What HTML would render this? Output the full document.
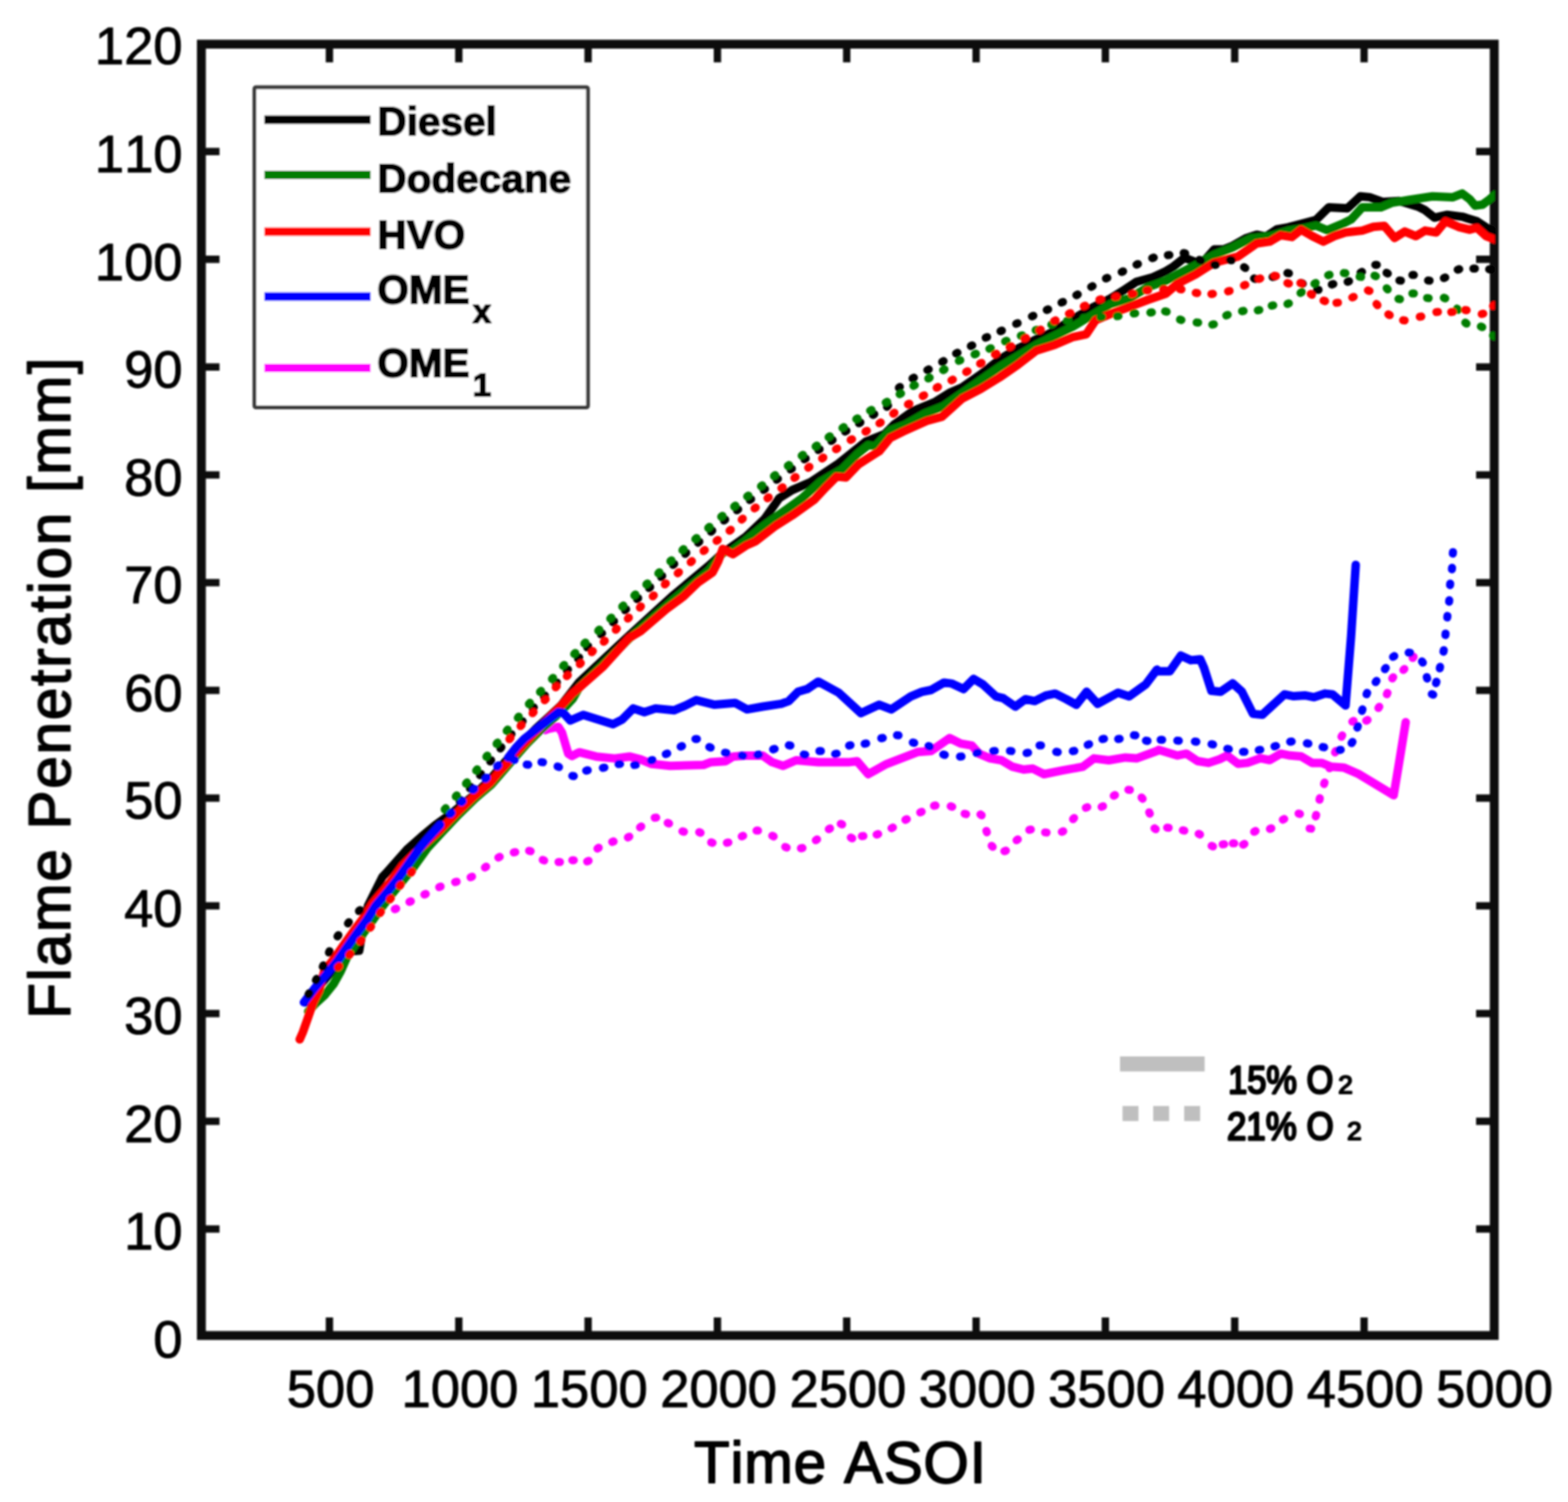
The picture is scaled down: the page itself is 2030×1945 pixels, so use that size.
<!DOCTYPE html>
<html lang="en"><head><meta charset="utf-8"><title>Flame Penetration vs Time ASOI</title>
<style>html,body{margin:0;padding:0;background:#fff}body{width:2030px;height:1945px;overflow:hidden}svg{display:block}text{font-family:"Liberation Sans",Arial,Helvetica,sans-serif;fill:#000;font-kerning:none;stroke-linejoin:round}.tk{font-size:68px;stroke:#000;stroke-width:1.1px;letter-spacing:0px}.lb{font-size:75.5px;stroke:#000;stroke-width:2px}.lg{font-size:52.5px;font-weight:bold;stroke:#000;stroke-width:2px}.an{font-size:50px;stroke:#000;stroke-width:3px}</style></head><body>
<svg xmlns="http://www.w3.org/2000/svg" width="2030" height="1945" viewBox="0 0 2030 1945">
<defs><filter id="bl" x="-5%" y="-5%" width="110%" height="110%"><feGaussianBlur stdDeviation="1.1"/></filter>
<clipPath id="cp"><rect x="260.7" y="57.2" width="1674.8" height="1672.2"/></clipPath></defs>
<rect width="2030" height="1945" fill="#fff"/>
<g filter="url(#bl)">
<g id="axes" stroke="#0a0a0a" fill="none" stroke-linecap="butt">
<rect x="260.7" y="57.2" width="1673.8" height="1672.2" stroke-width="11.5"/>
<path d="M426.5 1729.4 V1705.9 M426.5 57.2 V80.7 M594.0 1729.4 V1705.9 M594.0 57.2 V80.7 M761.4 1729.4 V1705.9 M761.4 57.2 V80.7 M928.8 1729.4 V1705.9 M928.8 57.2 V80.7 M1096.2 1729.4 V1705.9 M1096.2 57.2 V80.7 M1263.7 1729.4 V1705.9 M1263.7 57.2 V80.7 M1431.1 1729.4 V1705.9 M1431.1 57.2 V80.7 M1598.5 1729.4 V1705.9 M1598.5 57.2 V80.7 M1766.0 1729.4 V1705.9 M1766.0 57.2 V80.7 M260.7 1591.6 H284.2 M1934.5 1591.6 H1911.0 M260.7 1452.0 H284.2 M1934.5 1452.0 H1911.0 M260.7 1312.5 H284.2 M1934.5 1312.5 H1911.0 M260.7 1173.0 H284.2 M1934.5 1173.0 H1911.0 M260.7 1033.4 H284.2 M1934.5 1033.4 H1911.0 M260.7 893.9 H284.2 M1934.5 893.9 H1911.0 M260.7 754.4 H284.2 M1934.5 754.4 H1911.0 M260.7 614.9 H284.2 M1934.5 614.9 H1911.0 M260.7 475.3 H284.2 M1934.5 475.3 H1911.0 M260.7 335.8 H284.2 M1934.5 335.8 H1911.0 M260.7 196.3 H284.2 M1934.5 196.3 H1911.0" stroke-width="9.5"/>
</g>
<g id="yticks" class="tk" text-anchor="end">
<text x="236.3" y="1757.8">0</text>
<text x="236.3" y="1618.3">10</text>
<text x="236.3" y="1478.7">20</text>
<text x="236.3" y="1339.2">30</text>
<text x="236.3" y="1199.7">40</text>
<text x="236.3" y="1060.1">50</text>
<text x="236.3" y="920.6">60</text>
<text x="236.3" y="781.1">70</text>
<text x="236.3" y="641.6">80</text>
<text x="236.3" y="502.0">90</text>
<text x="236.3" y="362.5">100</text>
<text x="236.3" y="223.0">110</text>
<text x="236.3" y="83.4">120</text>
</g>
<g id="xticks" class="tk" text-anchor="middle">
<text x="428.0" y="1821.8">500</text>
<text x="595.5" y="1821.8">1000</text>
<text x="762.9" y="1821.8">1500</text>
<text x="930.3" y="1821.8">2000</text>
<text x="1097.8" y="1821.8">2500</text>
<text x="1265.2" y="1821.8">3000</text>
<text x="1432.6" y="1821.8">3500</text>
<text x="1600.0" y="1821.8">4000</text>
<text x="1767.5" y="1821.8">4500</text>
<text x="1934.9" y="1821.8">5000</text>
</g>
<text class="lb" text-anchor="middle" style="letter-spacing:1.1px" x="1088" y="1920">Time ASOI</text>
<text class="lb" text-anchor="middle" style="letter-spacing:2.4px" transform="translate(90.5 890) rotate(-90)">Flame Penetration [mm]</text>
<g id="curves" clip-path="url(#cp)">
<g id="solid15">
<polyline fill="none" stroke="#ff00ff" stroke-width="11.0" stroke-linejoin="round" stroke-linecap="round" points="706.0,945.5 711.0,943.5 722.8,941.2 727.6,948.7 735.6,975.8 740.4,979.0 750.0,974.2 771.9,979.7 795.8,982.1 815.0,979.7 829.4,983.3 843.8,989.3 867.7,991.7 910.9,990.5 920.4,986.9 939.6,985.7 949.2,979.7 963.6,978.5 987.5,978.5 999.5,986.9 1013.9,991.7 1030.7,984.5 1059.4,986.9 1093.0,986.9 1100.0,986.9 1109.6,985.7 1124.0,1002.5 1147.9,989.3 1188.7,973.7 1205.4,972.5 1229.4,955.8 1243.8,962.9 1258.1,965.3 1267.7,976.1 1282.1,982.1 1296.5,984.5 1310.9,992.9 1325.2,996.5 1337.2,995.3 1351.6,1002.5 1375.6,997.7 1401.9,992.9 1416.3,982.1 1435.5,984.5 1457.0,980.9 1471.4,982.1 1497.8,972.5 1500.0,971.1 1524.0,978.3 1535.9,975.9 1550.3,985.5 1564.7,987.9 1579.1,983.1 1588.7,978.3 1603.0,989.1 1615.0,987.9 1631.8,981.9 1643.8,984.3 1658.1,975.9 1670.1,978.3 1684.5,979.5 1698.9,987.9 1710.9,987.9 1722.8,992.7 1739.6,993.9 1758.8,1002.3 1804.3,1029.8 1811.5,986.7 1819.9,935.2"/>
<polyline fill="none" stroke="#000" stroke-width="11.0" stroke-linejoin="round" stroke-linecap="round" points="396.0,1298.0 410.0,1281.0 426.0,1262.0 439.0,1246.0 451.0,1232.0 465.0,1231.0 470.0,1200.0 476.6,1172.6 487.3,1151.3 495.3,1135.3 500.6,1130.0 528.0,1099.0 545.0,1084.0 563.0,1069.0 585.0,1053.0 612.0,1031.0 633.0,1011.0 654.0,986.7 677.8,960.0 694.0,943.3 710.0,928.8 726.3,913.6 750.0,883.2 809.9,827.2 869.8,772.5 917.7,732.6 936.9,715.2 965.7,695.1 989.6,672.3 1008.8,645.1 1025.6,634.6 1049.5,624.3 1085.5,600.3 1121.4,571.6 1145.4,562.0 1157.3,550.0 1181.2,532.7 1209.9,520.8 1229.1,508.8 1245.8,501.6 1269.8,484.8 1293.8,465.7 1317.7,451.3 1341.7,439.3 1358.5,432.1 1389.6,412.9 1413.6,398.6 1437.5,386.6 1456.7,374.6 1471.1,365.0 1492.7,359.0 1509.4,351.1 1519.2,345.1 1533.5,333.8 1555.1,342.1 1571.9,323.1 1583.9,323.1 1595.8,318.3 1612.6,308.8 1627.0,304.0 1639.0,306.4 1653.4,296.8 1667.7,294.4 1686.9,289.3 1703.7,284.8 1720.4,268.4 1744.4,269.8 1761.2,254.2 1773.2,255.4 1789.9,261.4 1811.5,260.2 1835.5,267.4 1845.0,272.2 1857.0,281.8 1873.8,278.2 1893.0,280.6 1912.1,286.6 1926.5,296.2 1936.1,301.0"/>
<polyline fill="none" stroke="#007d00" stroke-width="11.0" stroke-linejoin="round" stroke-linecap="round" points="399.0,1310.0 408.0,1300.0 420.0,1289.0 432.0,1274.0 441.0,1258.0 449.0,1240.0 458.0,1226.0 470.0,1209.0 483.0,1191.0 495.0,1174.0 508.0,1157.0 521.0,1141.0 534.0,1125.0 553.5,1098.0 571.0,1079.0 593.5,1055.0 615.5,1033.5 636.6,1015.5 658.0,990.7 681.3,963.9 697.4,947.7 713.5,933.2 729.8,917.5 741.4,905.1 750.0,889.8 774.0,866.4 821.9,819.9 869.8,778.1 917.7,738.8 936.9,714.4 946.5,714.2 965.7,699.5 989.6,680.0 1013.6,662.9 1037.5,645.8 1061.5,624.3 1090.3,607.5 1109.4,588.3 1123.8,576.4 1133.4,577.6 1152.6,557.2 1171.7,550.0 1197.9,535.1 1221.9,525.6 1245.8,508.8 1269.8,492.0 1293.8,475.2 1317.7,460.9 1341.7,446.5 1365.7,434.5 1389.6,422.5 1413.6,408.1 1437.5,393.8 1461.5,386.6 1485.5,372.2 1509.4,363.4 1524.0,355.7 1547.9,343.3 1571.9,329.9 1595.8,320.3 1619.8,308.4 1643.8,306.0 1667.7,298.8 1686.9,295.8 1703.7,292.0 1718.1,298.0 1739.6,289.0 1749.2,284.2 1763.6,268.6 1787.5,268.6 1801.9,262.6 1823.5,259.0 1854.6,254.2 1881.0,255.4 1893.0,250.6 1902.6,257.8 1909.7,266.2 1919.3,265.0 1928.9,257.8 1936.1,251.8"/>
<polyline fill="none" stroke="#ff0000" stroke-width="11.0" stroke-linejoin="round" stroke-linecap="round" points="388.0,1346.0 392.1,1336.6 399.6,1315.3 406.0,1297.0 413.0,1283.0 420.0,1257.0 433.0,1241.0 445.5,1223.0 458.0,1205.5 471.0,1188.0 482.5,1169.5 496.5,1153.0 509.5,1137.0 521.0,1121.0 538.0,1104.0 552.0,1091.0 569.5,1075.0 592.0,1052.0 614.0,1031.0 635.1,1013.0 645.7,1000.2 656.4,988.7 667.0,975.9 679.8,961.9 695.9,944.8 712.0,928.5 728.3,912.0 739.9,899.2 750.0,890.3 781.2,862.8 814.7,825.9 829.1,817.6 862.6,788.9 884.2,772.9 903.4,754.6 922.5,741.2 929.7,727.3 935.7,710.8 948.9,717.6 965.7,706.6 977.6,701.3 1004.0,681.0 1025.6,667.4 1054.3,647.0 1068.7,631.5 1083.1,617.1 1095.0,618.3 1111.8,601.0 1123.8,593.3 1138.2,584.4 1152.6,567.0 1169.3,558.8 1200.0,545.0 1219.5,539.6 1245.8,516.0 1269.8,503.6 1293.8,488.9 1317.7,472.4 1341.7,454.0 1365.7,446.4 1389.6,436.3 1406.4,432.8 1418.4,414.6 1437.5,406.6 1461.5,397.6 1485.5,388.5 1509.4,380.2 1524.0,367.7 1547.9,355.4 1571.9,340.2 1603.0,332.1 1627.0,315.3 1643.8,312.9 1658.1,304.6 1672.5,306.9 1684.5,297.4 1698.9,305.8 1713.3,312.9 1727.6,305.8 1742.0,301.0 1763.6,298.6 1778.0,293.8 1792.3,292.6 1805.5,308.1 1818.7,299.8 1833.1,305.8 1845.0,298.6 1859.4,301.0 1871.4,286.6 1888.2,293.8 1902.6,297.4 1912.1,295.0 1924.1,305.8 1936.1,310.5"/>
<polyline fill="none" stroke="#0000ff" stroke-width="11.0" stroke-linejoin="round" stroke-linecap="round" points="393.5,1298.0 408.0,1279.0 424.0,1260.0 437.0,1244.0 449.5,1226.0 462.0,1208.5 475.0,1191.0 486.5,1172.5 500.5,1156.0 513.5,1140.0 525.0,1124.0 542.0,1100.0 552.0,1088.0 569.5,1068.5"/>
<polyline fill="none" stroke="#0000ff" stroke-width="11.0" stroke-linejoin="round" stroke-linecap="round" points="658.0,981.0 663.0,974.5 669.0,967.0 679.0,956.5 690.0,948.0 700.0,940.0 712.0,930.5 722.8,922.3 729.2,923.1 738.3,933.0 755.1,925.8 774.3,931.8 793.5,937.8 805.4,931.8 819.8,917.4 834.2,922.2 848.6,917.4 872.5,919.8 886.9,913.8 901.3,906.6 925.2,912.6 951.6,910.2 967.2,918.6 987.5,915.0 1011.5,911.4 1021.1,907.8 1033.1,895.8 1045.0,892.3 1059.4,882.7 1085.8,897.0 1114.5,923.4 1138.3,912.6 1153.9,918.6 1179.1,901.8 1193.5,895.8 1205.4,893.5 1222.2,883.9 1231.8,885.1 1247.4,892.3 1260.5,879.1 1272.5,886.3 1289.3,901.8 1298.9,904.2 1314.5,915.0 1327.6,905.4 1339.6,907.8 1354.0,900.6 1366.0,898.2 1380.4,905.4 1393.5,912.6 1406.7,895.8 1421.1,911.4 1447.4,897.0 1461.8,901.8 1483.4,886.3 1497.8,867.1 1500.0,869.3 1514.4,869.3 1528.8,848.9 1541.9,854.9 1553.9,853.7 1558.7,864.5 1568.3,894.5 1580.3,895.7 1595.8,884.9 1607.8,895.7 1622.2,924.4 1634.2,925.6 1662.9,899.2 1674.9,901.6 1689.3,900.4 1701.3,902.8 1715.7,898.1 1725.2,899.2 1742.0,913.6 1749.2,823.8 1755.2,731.5"/>
</g>
<g id="dotted21">
<path fill="none" stroke="#ff00ff" stroke-width="10.5" stroke-linecap="round" d="M511.1 1177.4 L512.9 1176.6 M530.1 1167.9 L531.9 1167.1 M549.4 1158.4 L551.2 1157.6 M568.6 1148.8 L570.4 1148.0 M589.2 1142.3 L591.2 1141.7 M609.3 1136.0 L611.1 1135.2 M627.8 1123.4 L629.4 1122.2 M645.2 1110.5 L647.0 1109.5 M665.1 1103.8 L667.1 1103.4 M685.0 1101.7 L687.0 1102.3 M702.7 1113.5 L704.5 1114.3 M723.0 1116.3 L725.0 1116.3 M740.9 1113.9 L742.9 1113.9 M760.2 1115.5 L762.0 1114.7 M773.5 1098.9 L775.1 1097.7 M792.6 1090.2 L794.4 1089.6 M812.9 1084.4 L814.7 1083.4 M828.6 1071.4 L830.2 1070.2 M847.6 1058.9 L849.6 1058.7 M864.4 1065.6 L866.2 1066.4 M883.5 1076.5 L885.5 1077.1 M905.2 1077.6 L907.0 1078.4 M920.7 1090.8 L922.5 1091.4 M941.0 1091.3 L943.0 1090.9 M960.3 1083.1 L962.1 1082.3 M979.4 1075.6 L981.4 1075.6 M999.8 1082.2 L1001.6 1083.2 M1016.6 1096.7 L1018.4 1097.5 M1036.9 1098.5 L1038.9 1098.1 M1056.2 1088.1 L1057.8 1086.9 M1073.0 1073.7 L1074.6 1072.7 M1088.5 1066.8 L1090.3 1067.6 M1101.5 1084.6 L1103.3 1085.6 M1115.8 1082.8 L1117.8 1082.6 M1134.9 1080.7 L1136.9 1080.1 M1154.2 1072.5 L1156.0 1071.5 M1172.2 1061.7 L1174.0 1060.7 M1191.4 1052.0 L1193.2 1051.2 M1209.2 1043.4 L1211.2 1043.0 M1230.8 1044.1 L1232.8 1044.7 M1248.8 1053.7 L1250.8 1054.3 M1269.3 1054.6 L1270.9 1055.8 M1277.0 1075.9 L1277.6 1077.7 M1283.8 1095.2 L1285.2 1096.6 M1300.3 1102.2 L1302.3 1101.6 M1316.1 1088.1 L1317.7 1086.9 M1332.6 1074.6 L1334.6 1074.2 M1353.0 1077.9 L1355.0 1078.1 M1374.7 1077.2 L1376.5 1076.4 M1389.2 1060.7 L1390.6 1059.3 M1405.8 1046.0 L1407.6 1045.2 M1426.2 1044.8 L1428.0 1044.0 M1441.9 1030.5 L1443.5 1029.5 M1460.8 1022.7 L1462.8 1022.9 M1477.9 1032.8 L1479.3 1034.4 M1487.8 1051.9 L1488.6 1053.7 M1494.6 1072.6 L1496.2 1073.8 M1511.0 1071.7 L1513.0 1071.9 M1531.3 1075.2 L1533.3 1075.6 M1551.8 1079.7 L1553.6 1080.7 M1568.6 1095.3 L1570.4 1096.1 M1582.9 1093.4 L1584.9 1093.2 M1596.0 1092.1 L1598.0 1092.1 M1609.3 1093.8 L1611.1 1092.8 M1623.7 1077.1 L1625.5 1076.1 M1644.1 1073.4 L1645.9 1072.6 M1660.8 1061.5 L1662.6 1060.5 M1681.2 1053.5 L1683.0 1054.1 M1695.5 1072.9 L1697.5 1073.1 M1703.4 1057.2 L1704.0 1055.2 M1708.3 1035.6 L1708.7 1033.6 M1714.2 1015.3 L1714.8 1013.3 M1721.3 994.8 L1721.9 993.0 M1728.4 974.4 L1729.2 972.6 M1736.7 954.1 L1737.7 952.3 M1750.8 934.5 L1752.4 933.5 M1768.7 933.3 L1770.5 932.3 M1784.5 916.8 L1785.7 915.2 M1795.5 899.0 L1796.3 897.2 M1802.5 878.5 L1803.7 876.9 M1816.8 867.6 L1818.2 866.2 M1828.9 852.1 L1830.1 850.5"/>
<path fill="none" stroke="#000" stroke-width="10.5" stroke-linecap="round" d="M399.4 1287.8 L400.4 1286.0 M409.0 1269.4 L410.0 1267.6 M417.9 1251.9 L418.7 1250.1 M425.9 1233.5 L426.7 1231.7 M436.9 1212.6 L438.1 1211.0 M450.5 1195.8 L451.7 1194.2 M464.7 1179.8 L466.1 1178.4 M580.7 1054.2 L582.1 1052.6 M595.1 1037.5 L596.3 1035.9 M608.3 1020.7 L609.5 1019.1 M621.5 1003.9 L622.7 1002.3 M634.7 986.0 L635.9 984.4 M647.9 969.2 L649.1 967.6 M661.0 952.4 L662.2 950.8 M675.4 935.6 L676.6 934.0 M689.7 917.7 L691.1 916.1 M704.1 902.0 L705.5 900.6 M719.6 885.2 L721.0 883.8 M734.0 868.4 L735.4 867.0 M748.4 853.0 L749.8 851.4 M760.1 838.2 L761.5 836.8 M778.1 821.5 L779.5 820.1 M793.6 805.9 L795.0 804.5 M809.2 790.3 L810.6 788.9 M824.8 775.9 L826.2 774.5 M840.4 761.6 L841.8 760.2 M855.9 747.2 L857.3 745.8 M871.5 731.6 L872.9 730.2 M887.1 717.2 L888.5 715.8 M903.8 702.9 L905.4 701.5 M920.5 688.5 L922.1 687.1 M937.3 674.0 L938.9 672.8 M954.1 660.8 L955.7 659.6 M970.8 647.6 L972.4 646.4 M988.8 634.5 L990.4 633.3 M1005.6 621.3 L1007.2 620.1 M1023.6 608.1 L1025.2 606.9 M1041.5 594.9 L1043.1 593.7 M1059.5 582.9 L1061.1 581.7 M1076.3 571.0 L1077.9 569.8 M1094.2 558.9 L1095.8 557.9 M1112.1 548.1 L1113.9 547.1 M1130.1 537.3 L1131.9 536.3 M1148.3 526.7 L1149.7 525.3 M1163.7 502.3 L1165.1 500.9 M1181.4 490.1 L1183.2 489.1 M1200.6 479.3 L1202.4 478.3 M1219.8 468.6 L1221.6 467.6 M1237.8 457.8 L1239.6 456.8 M1256.9 448.2 L1258.7 447.2 M1276.1 437.3 L1277.9 436.5 M1295.3 428.9 L1297.1 428.1 M1315.6 419.3 L1317.4 418.5 M1336.0 409.7 L1337.8 408.9 M1355.2 401.4 L1357.0 400.6 M1374.3 391.8 L1376.1 391.0 M1393.5 382.3 L1395.3 381.3 M1412.7 371.5 L1414.5 370.5 M1431.8 360.6 L1433.6 359.8 M1452.2 352.2 L1454.0 351.4 M1471.4 342.7 L1473.2 341.9 M1491.7 334.2 L1493.7 333.6 M1512.0 330.4 L1514.0 330.2 M1532.4 327.7 L1534.4 328.1 M1553.0 336.5 L1554.8 337.3 M1572.1 342.9 L1574.1 342.9 M1592.5 336.8 L1594.5 337.0 M1610.6 345.9 L1612.2 347.1 M1623.6 360.6 L1625.6 361.2 M1647.6 358.7 L1649.6 358.3 M1666.7 353.5 L1668.7 353.9 M1684.8 366.4 L1686.6 367.4 M1705.1 375.2 L1707.1 375.2 M1724.2 368.4 L1726.2 367.8 M1744.7 364.9 L1746.5 364.1 M1761.5 353.0 L1763.3 352.0 M1780.5 342.9 L1782.5 342.9 M1795.1 353.2 L1796.7 354.2 M1811.7 363.2 L1813.7 363.4 M1828.5 356.1 L1830.5 356.1 M1848.8 363.2 L1850.8 363.4 M1869.3 360.1 L1871.1 359.3 M1887.2 349.2 L1889.2 348.6 M1907.5 347.7 L1909.5 347.7 M1927.9 348.8 L1929.9 349.0"/>
<path fill="none" stroke="#007d00" stroke-width="10.5" stroke-linecap="round" d="M575.7 1048.2 L577.1 1046.6 M590.1 1031.5 L591.3 1029.9 M603.3 1014.7 L604.5 1013.1 M616.5 997.9 L617.7 996.3 M629.7 980.0 L630.9 978.4 M642.9 963.2 L644.1 961.6 M656.0 946.4 L657.2 944.8 M670.4 929.6 L671.6 928.0 M684.7 911.7 L686.1 910.1 M699.1 896.0 L700.5 894.6 M714.6 879.2 L716.0 877.8 M729.0 862.4 L730.4 861.0 M743.4 846.9 L744.8 845.5 M756.5 833.4 L757.9 832.0 M774.5 816.7 L775.9 815.3 M790.0 801.1 L791.4 799.7 M805.6 785.5 L807.0 784.1 M821.2 771.1 L822.6 769.7 M836.8 756.8 L838.2 755.4 M852.3 742.4 L853.7 741.0 M867.9 726.8 L869.3 725.4 M883.5 712.4 L884.9 711.0 M900.2 698.1 L901.8 696.7 M916.9 683.7 L918.5 682.3 M933.7 669.2 L935.3 668.0 M950.5 656.0 L952.1 654.8 M967.3 642.9 L968.9 641.7 M985.2 629.7 L986.8 628.5 M1002.0 616.5 L1003.6 615.3 M1020.0 603.3 L1021.6 602.1 M1037.9 590.1 L1039.5 588.9 M1055.9 578.2 L1057.5 577.0 M1072.7 566.2 L1074.3 565.0 M1090.7 554.1 L1092.3 553.1 M1108.6 542.8 L1110.2 541.8 M1126.5 531.8 L1128.3 530.8 M1146.7 521.3 L1148.5 520.3 M1164.7 510.5 L1166.5 509.5 M1182.6 499.7 L1184.4 498.7 M1201.8 490.1 L1203.6 489.1 M1221.0 479.3 L1222.8 478.3 M1241.4 467.3 L1243.2 466.5 M1261.7 458.9 L1263.5 458.1 M1280.9 451.7 L1282.7 450.9 M1301.3 442.1 L1303.1 441.3 M1321.6 434.8 L1323.4 434.2 M1340.8 427.6 L1342.6 427.0 M1361.1 420.4 L1363.1 419.8 M1381.4 415.5 L1383.4 415.1 M1403.0 411.8 L1405.0 411.6 M1424.6 410.6 L1426.6 410.4 M1446.1 409.4 L1448.1 409.2 M1467.7 405.9 L1469.7 405.7 M1489.3 404.7 L1491.3 404.5 M1508.4 403.2 L1510.4 403.6 M1527.7 413.8 L1529.5 414.4 M1549.2 417.6 L1551.2 417.8 M1569.5 420.3 L1571.5 419.9 M1587.6 408.5 L1589.4 407.7 M1608.0 403.0 L1610.0 402.6 M1628.4 401.8 L1630.4 401.4 M1646.4 395.8 L1648.4 395.4 M1666.8 393.6 L1668.6 392.8 M1683.7 379.4 L1685.3 378.2 M1701.7 367.4 L1703.3 366.4 M1719.5 356.4 L1721.3 355.8 M1739.8 353.6 L1741.8 353.8 M1760.2 358.4 L1762.2 358.6 M1779.5 356.9 L1781.3 357.7 M1795.2 373.3 L1796.6 374.7 M1810.5 387.0 L1812.5 387.4 M1828.5 380.0 L1830.5 380.0 M1847.6 385.9 L1849.6 386.1 M1869.3 385.6 L1871.1 386.4 M1886.4 399.6 L1887.6 401.2 M1897.0 417.8 L1898.6 419.0 M1917.2 422.8 L1919.0 423.6 M1932.9 434.5 L1934.5 435.7"/>
<path fill="none" stroke="#ff0000" stroke-width="10.5" stroke-linecap="round" d="M437.6 1252.5 L439.0 1251.1 M452.1 1236.6 L453.3 1235.0 M466.4 1219.0 L467.6 1217.4 M479.2 1201.4 L480.4 1199.8 M492.0 1182.3 L493.2 1180.7 M504.8 1164.7 L506.0 1163.1 M517.5 1147.1 L518.7 1145.5 M532.1 1130.0 L533.3 1128.4 M659.5 957.2 L660.9 955.6 M673.9 940.3 L675.3 938.9 M689.5 923.5 L690.9 922.1 M705.1 906.8 L706.5 905.4 M719.4 890.0 L720.8 888.6 M733.8 875.6 L735.2 874.2 M750.6 860.0 L752.0 858.6 M766.2 844.5 L767.6 843.1 M781.6 831.1 L783.0 829.7 M797.2 815.5 L798.6 814.1 M812.8 801.1 L814.2 799.7 M828.4 786.7 L829.8 785.3 M845.1 772.3 L846.5 770.9 M860.7 756.8 L862.1 755.4 M877.4 742.4 L879.0 741.0 M894.2 728.0 L895.8 726.6 M910.9 713.5 L912.5 712.3 M927.7 700.4 L929.3 699.2 M944.5 687.2 L946.1 686.0 M960.2 672.9 L961.6 671.5 M976.8 658.4 L978.4 657.2 M993.6 645.2 L995.2 644.0 M1011.6 632.1 L1013.2 630.9 M1028.4 618.9 L1030.0 617.7 M1046.3 605.7 L1047.9 604.5 M1064.3 593.7 L1065.9 592.5 M1082.3 581.7 L1083.9 580.7 M1101.3 569.7 L1103.1 568.7 M1120.5 558.9 L1122.3 557.9 M1138.6 548.1 L1140.2 547.1 M1156.4 535.7 L1158.0 534.5 M1175.5 523.7 L1177.3 522.7 M1194.6 512.9 L1196.4 511.9 M1212.6 502.1 L1214.4 501.1 M1231.8 492.5 L1233.6 491.5 M1250.9 481.7 L1252.7 480.7 M1268.9 470.9 L1270.7 469.9 M1288.1 459.0 L1289.9 458.0 M1307.2 449.4 L1309.0 448.4 M1326.4 438.6 L1328.2 437.6 M1345.6 427.8 L1347.4 426.8 M1364.8 415.8 L1366.6 414.8 M1383.9 406.2 L1385.7 405.4 M1403.1 396.6 L1404.9 395.8 M1423.4 388.1 L1425.4 387.5 M1443.7 384.4 L1445.7 384.0 M1465.3 380.8 L1467.3 380.4 M1484.5 375.9 L1486.5 375.7 M1506.0 374.6 L1508.0 374.6 M1527.6 374.5 L1529.6 374.7 M1548.0 379.3 L1550.0 379.5 M1568.3 380.7 L1570.3 380.5 M1589.9 377.3 L1591.9 376.7 M1610.5 369.6 L1612.3 368.8 M1629.6 361.2 L1631.6 360.6 M1650.0 357.1 L1652.0 357.5 M1666.7 366.6 L1668.7 367.2 M1683.6 366.5 L1685.4 367.3 M1696.9 380.6 L1698.5 381.8 M1713.5 389.3 L1715.5 389.9 M1730.2 392.1 L1732.2 391.9 M1750.7 385.2 L1752.5 384.4 M1771.0 376.1 L1773.0 376.7 M1782.1 393.6 L1783.3 395.2 M1797.4 407.1 L1799.2 408.1 M1816.5 414.7 L1818.5 414.9 M1838.1 410.2 L1840.1 409.8 M1859.6 404.1 L1861.6 403.9 M1878.8 404.1 L1880.8 403.9 M1896.8 401.5 L1898.8 401.7 M1918.3 406.6 L1920.3 406.2 M1932.9 396.2 L1934.5 395.0"/>
<path fill="none" stroke="#0000ff" stroke-width="10.5" stroke-linecap="round" d="M568.8 1069.2 L570.2 1067.8 M583.1 1054.0 L584.5 1052.6 M597.5 1038.8 L598.9 1037.4 M612.7 1022.9 L614.1 1021.5 M628.7 1008.5 L630.1 1007.1 M643.8 992.5 L645.2 991.1 M664.4 983.5 L666.2 984.1 M681.9 990.1 L683.9 990.3 M701.0 986.9 L703.0 987.1 M721.9 992.5 L723.7 993.3 M740.9 1004.8 L742.9 1005.0 M758.9 998.0 L760.9 997.4 M780.5 994.3 L782.5 993.9 M800.8 989.4 L802.8 989.2 M821.2 990.6 L823.2 990.4 M842.9 984.8 L844.7 984.2 M862.0 976.5 L863.8 975.7 M881.2 966.9 L883.0 966.1 M900.3 956.9 L902.3 956.9 M918.3 967.3 L920.1 968.1 M938.6 974.7 L940.6 975.1 M960.2 978.4 L962.2 978.6 M980.5 977.5 L982.5 977.1 M1000.9 970.4 L1002.9 969.8 M1021.3 965.1 L1023.3 965.5 M1040.5 977.1 L1042.5 977.5 M1060.8 972.5 L1062.8 972.5 M1081.2 976.3 L1083.2 975.9 M1099.3 965.6 L1101.1 965.0 M1119.4 963.1 L1121.4 962.7 M1140.9 956.0 L1142.9 955.6 M1161.3 952.1 L1163.3 952.3 M1181.8 961.4 L1183.6 962.0 M1202.1 966.1 L1203.9 966.9 M1221.2 977.0 L1223.2 977.6 M1242.8 979.8 L1244.8 979.6 M1264.3 975.1 L1266.3 974.7 M1285.9 972.6 L1287.9 972.4 M1307.5 972.4 L1309.5 972.6 M1329.0 975.1 L1331.0 974.7 M1345.8 965.3 L1347.8 965.3 M1367.4 973.5 L1369.4 973.9 M1388.9 972.7 L1390.9 972.3 M1408.2 964.5 L1410.0 963.7 M1427.3 957.1 L1429.3 956.7 M1447.6 957.0 L1449.6 956.8 M1468.0 952.1 L1470.0 952.3 M1483.6 959.1 L1485.6 959.5 M1502.6 958.0 L1504.6 958.0 M1524.2 959.1 L1526.2 959.3 M1546.9 960.3 L1548.9 960.5 M1568.5 963.7 L1570.5 964.1 M1588.9 969.7 L1590.9 970.1 M1609.2 973.5 L1611.2 973.5 M1629.6 971.3 L1631.6 970.9 M1650.0 966.6 L1652.0 966.0 M1670.3 960.5 L1672.3 960.3 M1691.9 962.5 L1693.9 962.9 M1712.3 967.3 L1714.3 967.7 M1733.8 971.3 L1735.8 970.9 M1749.8 962.3 L1751.0 960.7 M1757.3 942.2 L1757.9 940.2 M1763.3 920.6 L1763.9 918.6 M1769.2 899.0 L1770.0 897.2 M1780.9 883.3 L1782.1 881.7 M1792.9 866.5 L1794.1 864.9 M1803.5 850.6 L1805.1 849.6 M1823.7 845.1 L1825.7 845.5 M1840.9 856.5 L1842.1 858.1 M1847.1 876.7 L1847.7 878.7 M1853.7 898.8 L1855.5 899.6 M1859.1 884.7 L1859.7 882.7 M1864.0 865.5 L1864.4 863.5 M1868.8 843.9 L1869.2 841.9 M1871.3 822.4 L1871.5 820.4 M1873.7 799.6 L1873.9 797.6 M1876.1 779.2 L1876.3 777.2 M1877.3 757.7 L1877.5 755.7 M1879.7 737.3 L1879.9 735.3 M1880.9 716.9 L1881.1 714.9"/>
</g></g>
<g id="legend">
<rect x="329.4" y="113" width="431.8" height="414.6" rx="2" fill="#fff" stroke="#3a3a3a" stroke-width="5"/>
<line x1="342.3" y1="155.0" x2="479.8" y2="155.0" stroke="#000" stroke-width="11"/>
<text class="lg" x="488.5" y="175.4">Diesel</text>
<line x1="342.3" y1="226.5" x2="479.8" y2="226.5" stroke="#007d00" stroke-width="11"/>
<text class="lg" x="488.5" y="249.4">Dodecane</text>
<line x1="342.3" y1="300.0" x2="479.8" y2="300.0" stroke="#ff0000" stroke-width="11"/>
<text class="lg" x="488.5" y="321.9">HVO</text>
<line x1="342.3" y1="383.9" x2="479.8" y2="383.9" stroke="#0000ff" stroke-width="11"/>
<text class="lg" x="488.5" y="393.0">OME<tspan dx="4" dy="25" style="font-size:43px">x</tspan></text>
<line x1="342.3" y1="476.5" x2="479.8" y2="476.5" stroke="#ff00ff" stroke-width="11"/>
<text class="lg" x="488.5" y="488.2">OME<tspan dx="4" dy="25" style="font-size:43px">1</tspan></text>
</g>
<g id="note">
<rect x="1450" y="1368" width="109.6" height="19.5" fill="#bfbfbf"/>
<rect x="1453.3" y="1432.2" width="20.6" height="19.5" fill="#bfbfbf"/>
<rect x="1493.0" y="1432.2" width="20.6" height="19.5" fill="#bfbfbf"/>
<rect x="1533.1" y="1432.2" width="20.6" height="19.5" fill="#bfbfbf"/>
<text class="an" x="1590" y="1415.5" textLength="136" lengthAdjust="spacingAndGlyphs">15% O</text>
<text class="an" x="1732.5" y="1415.5" style="font-size:34px;stroke-width:2.2px">2</text>
<text class="an" x="1588.5" y="1475.5" textLength="138" lengthAdjust="spacingAndGlyphs">21% O</text>
<text class="an" x="1744" y="1475.5" style="font-size:34px;stroke-width:2.2px">2</text>
</g>
</g>
</svg></body></html>
